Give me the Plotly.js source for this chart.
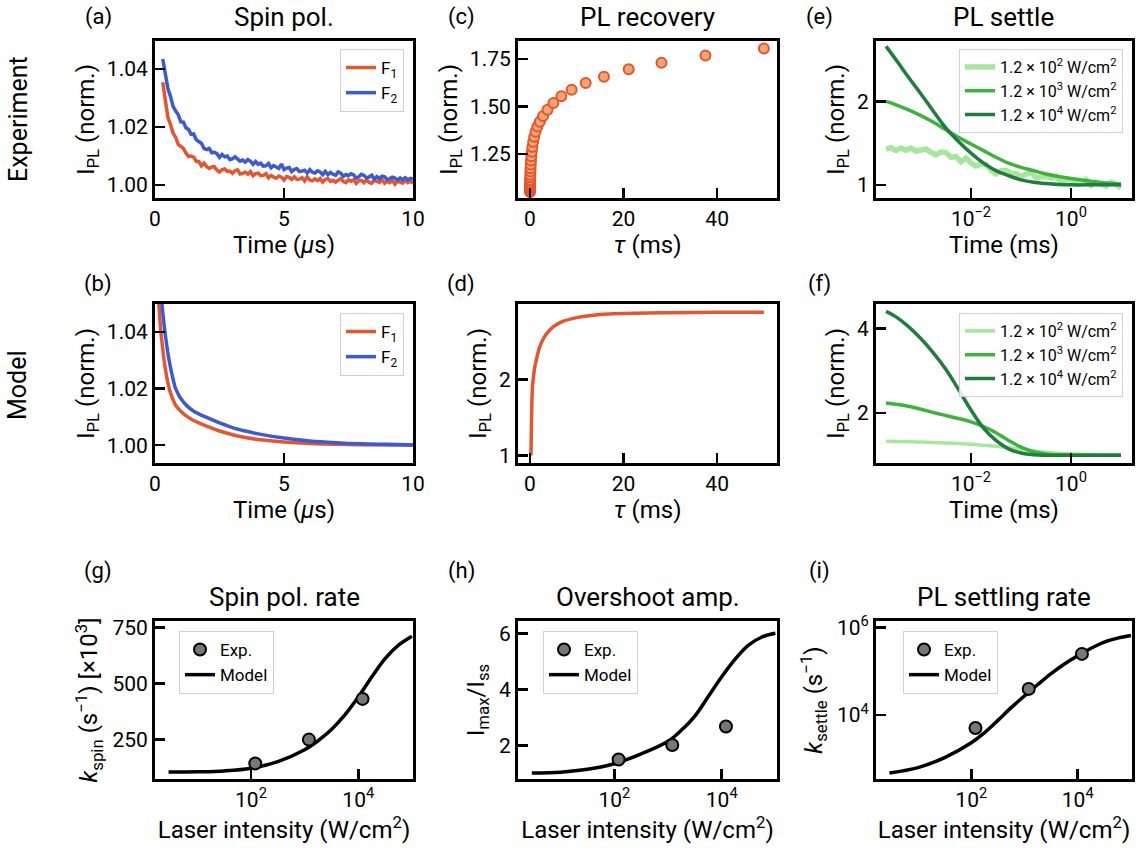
<!DOCTYPE html>
<html><head><meta charset="utf-8">
<script src="https://cdn.plot.ly/plotly-3.0.1.min.js"></script>
<style>html,body{margin:0;padding:0;background:#fff}#chart{width:1141px;height:850px}</style>
</head><body><div id="chart"></div>
<script>
// ---------- DATA ----------
// (a) Spin pol. experiment, time in us
const timeA = [0.3,0.4,0.5,0.6,0.7,0.8,0.9,1.0,1.1,1.2,1.3,1.4,1.5,1.6,1.7,1.8,1.9,2.0,2.1,2.2,2.3,2.4,2.5,2.6,2.7,2.8,2.9,3.0,3.1,3.2,3.3,3.4,3.5,3.6,3.7,3.8,3.9,4.0,4.1,4.2,4.3,4.4,4.5,4.6,4.7,4.8,4.9,5.0,5.1,5.2,5.3,5.4,5.5,5.6,5.7,5.8,5.9,6.0,6.1,6.2,6.3,6.4,6.5,6.6,6.7,6.8,6.9,7.0,7.1,7.2,7.3,7.4,7.5,7.6,7.7,7.8,7.9,8.0,8.1,8.2,8.3,8.4,8.5,8.6,8.7,8.8,8.9,9.0,9.1,9.2,9.3,9.4,9.5,9.6,9.7,9.8,9.9,10.0];
const expF1 = [1.0355,1.0283,1.0233,1.0209,1.0179,1.0165,1.0140,1.0133,1.0126,1.0110,1.0098,1.0100,1.0096,1.0081,1.0081,1.0066,1.0075,1.0064,1.0057,1.0062,1.0063,1.0051,1.0045,1.0053,1.0055,1.0047,1.0048,1.0040,1.0049,1.0052,1.0038,1.0040,1.0044,1.0037,1.0046,1.0032,1.0039,1.0041,1.0032,1.0033,1.0039,1.0025,1.0033,1.0027,1.0023,1.0031,1.0027,1.0017,1.0029,1.0026,1.0019,1.0028,1.0019,1.0020,1.0025,1.0014,1.0028,1.0017,1.0014,1.0021,1.0015,1.0022,1.0010,1.0019,1.0022,1.0012,1.0016,1.0010,1.0018,1.0022,1.0012,1.0008,1.0018,1.0013,1.0018,1.0005,1.0015,1.0016,1.0008,1.0018,1.0009,1.0006,1.0016,1.0013,1.0009,1.0018,1.0006,1.0013,1.0008,1.0016,1.0003,1.0013,1.0010,1.0006,1.0016,1.0008,1.0014,1.0005];
const expF2 = [1.0435,1.0384,1.0333,1.0306,1.0271,1.0255,1.0243,1.0218,1.0217,1.0197,1.0192,1.0175,1.0176,1.0156,1.0150,1.0144,1.0126,1.0122,1.0126,1.0111,1.0113,1.0108,1.0095,1.0105,1.0097,1.0100,1.0088,1.0090,1.0097,1.0091,1.0082,1.0086,1.0079,1.0088,1.0082,1.0071,1.0081,1.0071,1.0075,1.0065,1.0066,1.0074,1.0059,1.0067,1.0061,1.0057,1.0072,1.0053,1.0058,1.0060,1.0046,1.0054,1.0056,1.0046,1.0048,1.0051,1.0041,1.0053,1.0044,1.0041,1.0049,1.0045,1.0035,1.0047,1.0036,1.0043,1.0037,1.0033,1.0045,1.0041,1.0030,1.0036,1.0032,1.0039,1.0035,1.0024,1.0028,1.0037,1.0033,1.0024,1.0028,1.0034,1.0020,1.0029,1.0022,1.0030,1.0028,1.0018,1.0022,1.0027,1.0024,1.0017,1.0024,1.0018,1.0025,1.0018,1.0023,1.0020];

// (b) Spin pol. model
const timeB = [0.1,0.15,0.2,0.3,0.4,0.5,0.6,0.75,0.8,1.0,1.25,1.5,2.0,2.5,3.0,3.5,4.0,5.0,6.0,7.0,8.0,9.0,10.0];
const modF1 = [1.058,1.050,1.043,1.034,1.027,1.022,1.0185,1.0150,1.0141,1.0120,1.0101,1.0087,1.0067,1.0050,1.0037,1.0027,1.0020,1.0011,1.0006,1.0003,1.00015,1.00007,1.00003];
const modF2 = [1.068,1.063,1.058,1.047,1.039,1.0325,1.0275,1.0215,1.0200,1.0165,1.0138,1.0120,1.0098,1.0079,1.0062,1.0050,1.0040,1.0025,1.0015,1.0009,1.0005,1.0003,1.0001];

// (c) PL recovery experiment, tau in ms
const tauC = [0.0028,0.0038,0.005,0.0067,0.009,0.012,0.016,0.021,0.028,0.038,0.05,0.067,0.089,0.12,0.16,0.21,0.28,0.38,0.5,0.67,0.89,1.19,1.58,2.1,2.8,3.75,5.0,6.7,8.9,11.9,15.8,21.1,28.1,37.5,50.0];
const plC  = [1.050,1.055,1.060,1.066,1.072,1.078,1.085,1.093,1.103,1.114,1.127,1.141,1.157,1.175,1.194,1.215,1.238,1.262,1.287,1.313,1.340,1.367,1.394,1.420,1.450,1.483,1.518,1.554,1.588,1.624,1.657,1.696,1.731,1.769,1.806];

// (d) PL recovery model
const tauD = [0.2,0.3,0.4,0.5,0.7,1.0,1.5,2.0,3.0,4.0,5.0,7.0,10.0,15.0,20.0,30.0,40.0,50.0];
const plD  = [1.0,1.4,1.7,1.88,2.02,2.16,2.30,2.42,2.56,2.64,2.70,2.77,2.82,2.86,2.875,2.885,2.89,2.89];

// (e) PL settle experiment, time in ms
const timeE_low = [0.0002,0.000251,0.000316,0.000398,0.000501,0.000631,0.000794,0.001,0.00126,0.00158,0.002,0.00251,0.00316,0.00398,0.00501,0.00631,0.00794,0.01,0.0126,0.0158,0.02,0.0251,0.0316,0.0398,0.0501,0.0631,0.0794,0.1,0.126,0.158,0.2,0.251,0.316,0.398,0.501,0.631,0.794,1.0,1.26,1.58,2.0,2.51,3.16,3.98,5.01,6.31,7.94,10.0];
const expLow = [1.43,1.445,1.41,1.44,1.415,1.44,1.405,1.425,1.43,1.39,1.36,1.395,1.385,1.33,1.34,1.275,1.32,1.265,1.225,1.245,1.245,1.175,1.13,1.17,1.175,1.14,1.135,1.10,1.13,1.15,1.085,1.09,1.105,1.08,1.10,1.035,1.06,1.06,1.045,1.03,1.065,0.995,1.035,1.005,0.985,1.03,1.005,0.96];
const timeEF = [0.0002,0.000316,0.000562,0.001,0.00178,0.00316,0.00562,0.01,0.0178,0.0316,0.0562,0.1,0.178,0.316,0.562,1.0,3.16,10.0];
const expMid  = [2.0,1.96,1.9,1.83,1.75,1.66,1.57,1.49,1.41,1.33,1.26,1.21,1.17,1.13,1.10,1.075,1.035,1.01];
const expHigh = [2.66,2.5,2.29,2.09,1.88,1.68,1.52,1.38,1.26,1.17,1.11,1.06,1.03,1.015,1.005,1.0,1.0,1.0];

// (f) PL settle model
const modLow  = [1.33,1.325,1.32,1.31,1.30,1.29,1.275,1.26,1.235,1.21,1.175,1.14,1.10,1.07,1.045,1.03,1.01,1.0];
const modMid  = [2.24,2.21,2.16,2.09,2.01,1.94,1.87,1.79,1.68,1.53,1.35,1.19,1.08,1.03,1.01,1.0,1.0,1.0];
const modHigh = [4.41,4.28,4.05,3.76,3.42,3.03,2.56,2.07,1.64,1.35,1.15,1.05,1.01,1.0,1.0,1.0,1.0,1.0];

// (g)-(i) vs laser intensity (W/cm^2)
const intensityExp = [120,1200,12000];
const intensityModel = [2.9,10,31.6,100,316,1000,1780,3160,5620,10000,17800,31600,56200,100000];
const kSpinExp = [143,250,432];
const kSpinModel = [105,106,110,122,152,205,245,295,360,440,530,612,672,712];
const overshootExp = [1.5,2.02,2.68];
const overshootModel = [1.02,1.05,1.15,1.35,1.7,2.15,2.55,3.05,3.75,4.45,5.08,5.58,5.87,6.0];
const kSettleExp = [5090,39800,251000];
const intensitySettle = [2.9,10,31.6,100,178,316,562,1000,1780,3160,5620,10000,17800,31600,56200,100000];
const kSettleModel = [475,631,1070,2340,3980,7590,14800,27500,50100,89100,148000,229000,339000,468000,575000,661000];

const seriesNames = ['1.2 × 10<sup>2</sup> W/cm<sup>2</sup>','1.2 × 10<sup>3</sup> W/cm<sup>2</sup>','1.2 × 10<sup>4</sup> W/cm<sup>2</sup>'];

// ---------- STYLE ----------
const W=1141, H=850;
const FONT='Roboto, "DejaVu Sans", sans-serif';
const ORANGE='#E4572E', BLUE='#3A5BD3', ORFILL='#F0A574';
const G1='#A8E6A0', G2='#3CB43C', G3='#1F7D3E';
const cols=[[155,413],[518,777],[876,1132]];
const rows=[[41,198],[304,463],[621,779]];
const xd=c=>[cols[c][0]/W, cols[c][1]/W];
const yd=r=>[1-rows[r][1]/H, 1-rows[r][0]/H];

function ax(o){
  return Object.assign({showline:true,mirror:true,linewidth:3,linecolor:'#000',ticks:'inside',ticklen:10,tickwidth:2.5,tickcolor:'#000',
    showgrid:false,zeroline:false,automargin:false,fixedrange:true,tickfont:{family:FONT,size:21,color:'#000'}},o);
}
const tfont={family:FONT,size:24,color:'#000'};
const sup=(b,e)=>b+'<sup>'+e+'</sup>';
const logTicksE={tickmode:'array',tickvals:[0.01,1],ticktext:[sup('10','−2'),sup('10','0')]};
const logTicksI={tickmode:'array',tickvals:[100,10000],ticktext:[sup('10','2'),sup('10','4')]};
const IPL='I<sub>PL</sub> (norm.)';

function xt(text,so){return {text:text,font:tfont,standoff:so};}

const layout={
  width:W,height:H,margin:{l:0,r:0,t:0,b:0},paper_bgcolor:'#fff',plot_bgcolor:'#fff',showlegend:true,
  font:{family:FONT,color:'#000'},
  // row 1
  xaxis: ax({domain:xd(0),anchor:'y',range:[0,10],tickmode:'array',tickvals:[0,5,10],title:xt('Time (<i>μ</i>s)',4)}),
  yaxis: ax({domain:yd(0),anchor:'x',range:[0.9955,1.0497],tickmode:'array',tickvals:[1.00,1.02,1.04],ticktext:['1.00','1.02','1.04'],title:xt(IPL,6)}),
  xaxis2:ax({domain:xd(1),anchor:'y2',range:[-2.57,52.8],tickmode:'array',tickvals:[0,20,40],title:xt('<i>τ</i> (ms)',4)}),
  yaxis2:ax({domain:yd(0),anchor:'x2',range:[1.018,1.845],tickmode:'array',tickvals:[1.25,1.5,1.75],ticktext:['1.25','1.50','1.75'],title:xt(IPL,6)}),
  xaxis3:ax(Object.assign({domain:xd(2),anchor:'y3',type:'log',range:[-3.9,1.22],title:xt('Time (ms)',4)},logTicksE)),
  yaxis3:ax({domain:yd(0),anchor:'x3',range:[0.842,2.725],tickmode:'array',tickvals:[1,2],title:xt(IPL,6)}),
  // row 2
  xaxis4:ax({domain:xd(0),anchor:'y4',range:[0,10],tickmode:'array',tickvals:[0,5,10],title:xt('Time (<i>μ</i>s)',4)}),
  yaxis4:ax({domain:yd(1),anchor:'x4',range:[0.9937,1.0499],tickmode:'array',tickvals:[1.00,1.02,1.04],ticktext:['1.00','1.02','1.04'],title:xt(IPL,6)}),
  xaxis5:ax({domain:xd(1),anchor:'y5',range:[-2.57,52.8],tickmode:'array',tickvals:[0,20,40],title:xt('<i>τ</i> (ms)',4)}),
  yaxis5:ax({domain:yd(1),anchor:'x5',range:[0.9,3.0],tickmode:'array',tickvals:[1,2],title:xt(IPL,6)}),
  xaxis6:ax(Object.assign({domain:xd(2),anchor:'y6',type:'log',range:[-3.9,1.22],title:xt('Time (ms)',4)},logTicksE)),
  yaxis6:ax({domain:yd(1),anchor:'x6',range:[0.814,4.586],tickmode:'array',tickvals:[2,4],title:xt(IPL,6)}),
  // row 3
  xaxis7:ax(Object.assign({domain:xd(0),anchor:'y7',type:'log',range:[0.21,5.02],title:xt('Laser intensity (W/cm<sup>2</sup>)',4)},logTicksI)),
  yaxis7:ax({domain:yd(2),anchor:'x7',range:[74,780],tickmode:'array',tickvals:[250,500,750],title:xt('<i>k</i><sub>spin</sub> (s<sup>−1</sup>) [×10<sup>3</sup>]',8)}),
  xaxis8:ax(Object.assign({domain:xd(1),anchor:'y8',type:'log',range:[0.205,5.03],title:xt('Laser intensity (W/cm<sup>2</sup>)',4)},logTicksI)),
  yaxis8:ax({domain:yd(2),anchor:'x8',range:[0.806,6.44],tickmode:'array',tickvals:[2,4,6],title:xt('I<sub>max</sub>/I<sub>ss</sub>',8)}),
  xaxis9:ax(Object.assign({domain:xd(2),anchor:'y9',type:'log',range:[0.21,5.02],title:xt('Laser intensity (W/cm<sup>2</sup>)',4)},logTicksI)),
  yaxis9:ax({domain:yd(2),anchor:'x9',type:'log',range:[2.539,6.152],tickmode:'array',tickvals:[10000,1000000],ticktext:[sup('10','4'),sup('10','6')],title:xt('<i>k</i><sub>settle</sub> (s<sup>−1</sup>)',8)}),
  annotations:[],
};

function leg(o,size){
  return Object.assign({bgcolor:'rgba(255,255,255,0.85)',bordercolor:'#d0d0d0',borderwidth:1,font:{family:FONT,size:size,color:'#000'},
    itemwidth:30,tracegroupgap:0,traceorder:'normal'},o);
}
layout.legend = leg({x:404/W,xanchor:'right',y:1-49/H,yanchor:'top'},17);
layout.legend2= leg({x:404/W,xanchor:'right',y:1-313/H,yanchor:'top'},17);
layout.legend3= leg({x:1123/W,xanchor:'right',y:1-49/H,yanchor:'top'},16);
layout.legend4= leg({x:1123/W,xanchor:'right',y:1-313/H,yanchor:'top'},16);
layout.legend5= leg({x:179/W,xanchor:'left',y:1-631/H,yanchor:'top',traceorder:'reversed'},17);
layout.legend6= leg({x:543/W,xanchor:'left',y:1-631/H,yanchor:'top',traceorder:'reversed'},17);
layout.legend7= leg({x:903/W,xanchor:'left',y:1-631/H,yanchor:'top',traceorder:'reversed'},17);

function ann(text,x,y,size,extra){
  layout.annotations.push(Object.assign({text:text,xref:'paper',yref:'paper',x:x/W,y:1-y/H,showarrow:false,
    xanchor:'center',yanchor:'middle',font:{family:FONT,size:size,color:'#000'}},extra||{}));
}
// titles
ann('Spin pol.',284,17,26); ann('PL recovery',647.5,17,26); ann('PL settle',1004,17,26);
ann('Spin pol. rate',284,597,26); ann('Overshoot amp.',647.5,597,26); ann('PL settling rate',1004,597,26);
// panel labels
ann('(a)',98,17,22); ann('(c)',461,17,22); ann('(e)',819,17,22);
ann('(b)',98,284,22); ann('(d)',461,284,22); ann('(f)',819,284,22);
ann('(g)',98,571,22); ann('(h)',461,571,22); ann('(i)',819,571,22);
// row labels
ann('Experiment',18,119,25,{textangle:-90}); ann('Model',18,385,25,{textangle:-90});

// ---------- TRACES ----------
const line=(x,y,xa,ya,color,w,name,lg,show,smooth)=>({type:'scatter',mode:'lines',x:x,y:y,xaxis:xa,yaxis:ya,name:name,legend:lg,showlegend:!!show,
  line:{color:color,width:w,shape:smooth?'spline':'linear',smoothing:smooth?1:0},hoverinfo:'skip'});
const dots=(x,y,xa,ya,fill,edge,size,name,lg,show)=>({type:'scatter',mode:'markers',x:x,y:y,xaxis:xa,yaxis:ya,name:name,legend:lg,showlegend:!!show,
  marker:{color:fill,size:size,line:{color:edge,width:2}},hoverinfo:'skip'});

const data=[
  line(timeA,expF1,'x','y',ORANGE,3.5,'F<sub>1</sub>','legend',true,false),
  line(timeA,expF2,'x','y',BLUE,3.5,'F<sub>2</sub>','legend',true,false),
  dots(tauC,plC,'x2','y2',ORFILL,ORANGE,10,'exp','legend',false),
  line(timeE_low,expLow,'x3','y3',G1,5.5,seriesNames[0],'legend3',true,false),
  line(timeEF,expMid,'x3','y3',G2,3.5,seriesNames[1],'legend3',true,true),
  line(timeEF,expHigh,'x3','y3',G3,3.5,seriesNames[2],'legend3',true,true),
  line(timeB,modF1,'x4','y4',ORANGE,3.5,'F<sub>1</sub>','legend2',true,true),
  line(timeB,modF2,'x4','y4',BLUE,3.5,'F<sub>2</sub>','legend2',true,true),
  line(tauD,plD,'x5','y5',ORANGE,3.5,'model','legend2',false,true),
  line(timeEF,modLow,'x6','y6',G1,3.5,seriesNames[0],'legend4',true,true),
  line(timeEF,modMid,'x6','y6',G2,3.5,seriesNames[1],'legend4',true,true),
  line(timeEF,modHigh,'x6','y6',G3,3.5,seriesNames[2],'legend4',true,true),
  line(intensityModel,kSpinModel,'x7','y7','#000',3.5,'Model','legend5',true,true),
  dots(intensityExp,kSpinExp,'x7','y7','#777','#000',12,'Exp.','legend5',true),
  line(intensityModel,overshootModel,'x8','y8','#000',3.5,'Model','legend6',true,true),
  dots(intensityExp,overshootExp,'x8','y8','#777','#000',12,'Exp.','legend6',true),
  line(intensitySettle,kSettleModel,'x9','y9','#000',3.5,'Model','legend7',true,true),
  dots(intensityExp,kSettleExp,'x9','y9','#777','#000',12,'Exp.','legend7',true),
];

Plotly.newPlot('chart',data,layout,{staticPlot:true,displayModeBar:false});
</script></body></html>
